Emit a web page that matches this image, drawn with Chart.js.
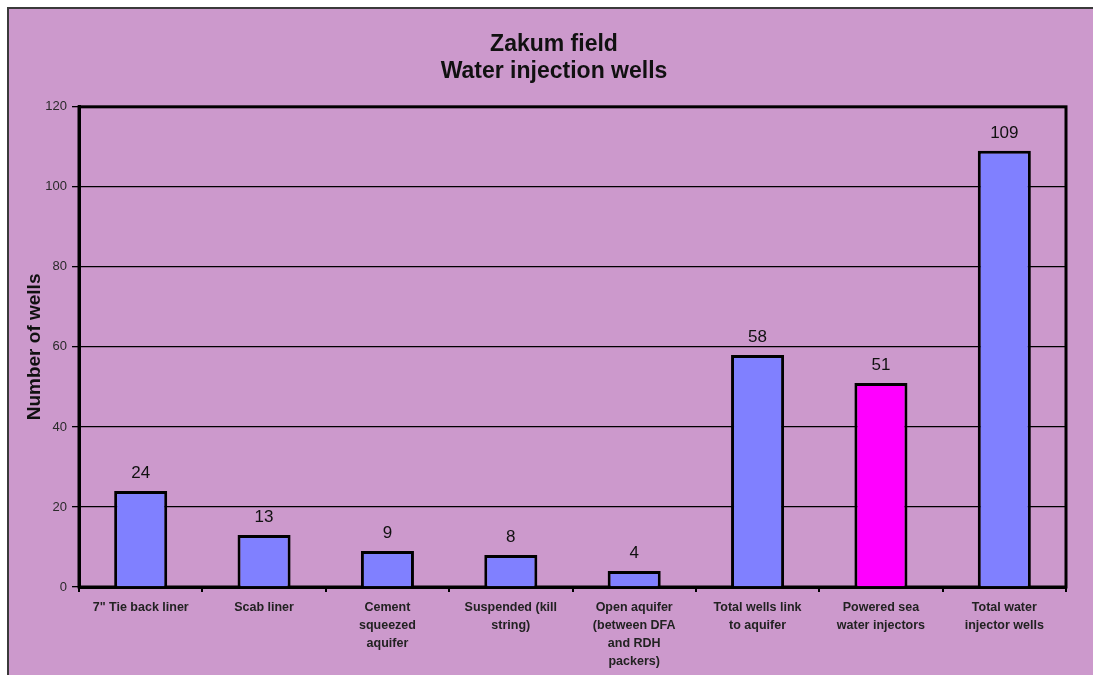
<!DOCTYPE html>
<html>
<head>
<meta charset="utf-8">
<script src="https://cdn.jsdelivr.net/npm/chart.js@4.4.1/dist/chart.umd.min.js"></script>
<style>
  html, body { margin: 0; padding: 0; background: #ffffff; }
  #marco {
    position: absolute; left: 7px; top: 7px;
    width: 1086px; height: 668px;
    background: #cc99cc;
    border-top: 2px solid #3a3a3a;
    border-left: 2px solid #3a3a3a;
  }
  #marco canvas { display: block; }
</style>
</head>
<body>
<div id="marco"><canvas id="canvasPozos" width="1084" height="666"></canvas></div>
<script>
// Categorías del eje X (cada una partida en líneas como en el informe)
const categorias = [
    ['7" Tie back liner'],
    ['Scab liner'],
    ['Cement', 'squeezed', 'aquifer'],
    ['Suspended (kill', 'string)'],
    ['Open aquifer', '(between DFA', 'and RDH', 'packers)'],
    ['Total wells link', 'to aquifer'],
    ['Powered sea', 'water injectors'],
    ['Total water', 'injector wells']
];
const numeroPozos = [24, 13, 9, 8, 4, 58, 51, 109];
const ticksY = [0, 20, 40, 60, 80, 100, 120];
const categoriaDestacada = 'Powered sea water injectors';

const colorBarra = '#8080ff';
const colorDestacado = '#ff00ff';
const fuente = 'Arial, "Liberation Sans", sans-serif';

const coloresBarras = categorias.map(c => c.join(' ') === categoriaDestacada ? colorDestacado : colorBarra);

// Marco negro alrededor del área de trazado
const pluginMarco = {
    id: 'marco',
    beforeDatasetsDraw(chart) {
        const a = chart.chartArea;
        const ctx = chart.ctx;
        ctx.save();
        ctx.strokeStyle = '#000';
        ctx.lineWidth = 3;
        ctx.strokeRect(a.left, a.top, a.right - a.left, a.bottom - a.top);
        ctx.restore();
    }
};

// Valor encima de cada barra
const pluginValores = {
    id: 'valores',
    afterDatasetsDraw(chart) {
        const ctx = chart.ctx;
        const meta = chart.getDatasetMeta(0);
        ctx.save();
        ctx.font = '17px ' + fuente;
        ctx.fillStyle = '#111';
        ctx.textAlign = 'center';
        ctx.textBaseline = 'middle';
        meta.data.forEach((barra, i) => {
            ctx.fillText(String(numeroPozos[i]), barra.x, barra.y - 18);
        });
        ctx.restore();
    }
};

const ctx = document.getElementById('canvasPozos').getContext('2d');
new Chart(ctx, {
    type: 'bar',
    data: {
        labels: categorias,
        datasets: [{
            data: numeroPozos,
            backgroundColor: coloresBarras,
            borderColor: '#000',
            borderWidth: 3,
            barPercentage: 0.43,
            categoryPercentage: 1.0
        }]
    },
    options: {
        responsive: false,
        animation: false,
        devicePixelRatio: 1,
        layout: { padding: { left: 33, right: 27, top: 0, bottom: 0 } },
        plugins: {
            legend: { display: false },
            tooltip: { enabled: false },
            title: {
                display: true,
                text: ['Zakum field', 'Water injection wells'],
                color: '#111',
                font: { family: fuente, size: 23, weight: 'bold', lineHeight: 1.17 },
                padding: { top: 22, bottom: 22 }
            }
        },
        scales: {
            y: {
                min: 0,
                max: 120,
                afterBuildTicks: (eje) => { eje.ticks = ticksY.map(v => ({ value: v })); },
                afterFit: (eje) => { eje.width = 37; },
                border: { display: true, color: '#000', width: 3 },
                grid: { color: '#000', lineWidth: 1.3, tickLength: 7, tickColor: '#000' },
                ticks: {
                    color: '#2a2a2a',
                    padding: 5,
                    font: { family: fuente, size: 13 }
                },
                title: {
                    display: true,
                    text: 'Number of wells',
                    color: '#111',
                    padding: { top: -19, bottom: 0 },
                    font: { family: fuente, size: 19, weight: 'bold', lineHeight: 1.2 }
                }
            },
            x: {
                afterFit: (eje) => { eje.height = 88; },
                border: { display: true, color: '#000', width: 3 },
                grid: { drawOnChartArea: false, offset: true, tickLength: 5, tickColor: '#000', lineWidth: 2 },
                ticks: {
                    autoSkip: false,
                    maxRotation: 0,
                    minRotation: 0,
                    padding: 7,
                    color: '#222',
                    font: { family: fuente, size: 12.5, weight: 'bold', lineHeight: 1.44 }
                }
            }
        }
    },
    plugins: [pluginMarco, pluginValores]
});
</script>
</body>
</html>
